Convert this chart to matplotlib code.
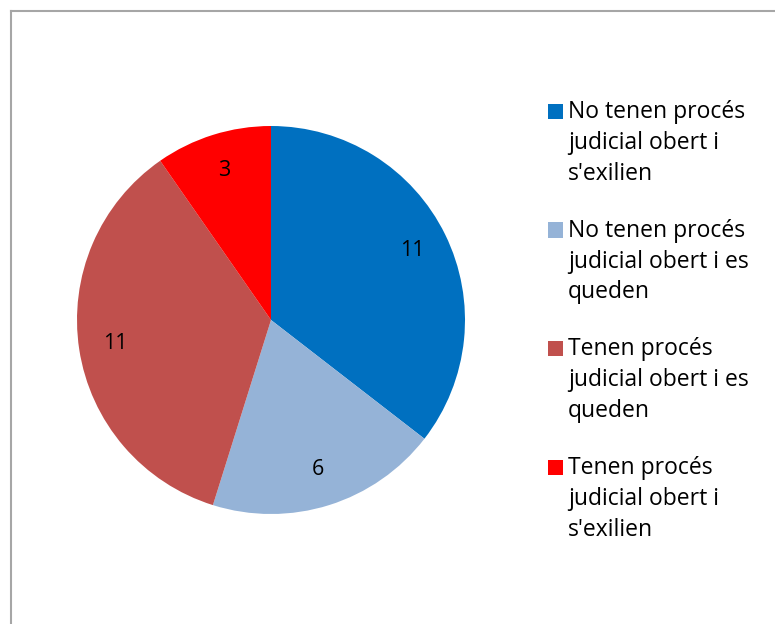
import matplotlib
matplotlib.use("Agg")
import matplotlib.pyplot as plt
import matplotlib.patches as patches
from matplotlib.lines import Line2D

# Donnees
categories = ["No tenen procés\njudicial obert i\ns'exilien",
              "No tenen procés\njudicial obert i es\nqueden",
              "Tenen procés\njudicial obert i es\nqueden",
              "Tenen procés\njudicial obert i\ns'exilien"]
valeurs = [11, 6, 11, 3]
couleurs = ['#0070C0', '#95B3D7', '#C0504D', '#FF0000']

plt.rcParams['font.family'] = ['Open Sans', 'DejaVu Sans']

W, H = 775, 624
fig = plt.figure(figsize=(W / 100, H / 100), dpi=100)

# Cadre (gauche + haut)
fig.add_artist(Line2D([10.5 / W, 10.5 / W], [0, 1 - 11 / H], color='#A6A6A6', lw=1.5))
fig.add_artist(Line2D([10.5 / W, 1], [1 - 11 / H, 1 - 11 / H], color='#A6A6A6', lw=1.5))

# Camembert
cx, cy, r = 271, 320, 194
ax = fig.add_axes([(cx - r) / W, (H - cy - r) / H, 2 * r / W, 2 * r / H])
ax.pie(valeurs, colors=couleurs, startangle=90, counterclock=False, radius=1,
       autopct=lambda p: f'{round(p * sum(valeurs) / 100):d}', pctdistance=0.81,
       textprops=dict(fontsize=15.5, color='black'))
ax.set_xlim(-1, 1)
ax.set_ylim(-1, 1)
ax.set_aspect('equal')
ax.axis('off')

# Legende
y0 = 120
for i, (lab, c) in enumerate(zip(categories, couleurs)):
    y = y0 + i * 118.5
    fig.add_artist(patches.Rectangle((548 / W, 1 - (y - 1) / H), 15 / W, 15 / H,
                                     transform=fig.transFigure, facecolor=c, edgecolor='none'))
    # va='baseline' -> ligne de base de la derniere ligne
    fig.text(568 / W, 1 - (y + 60) / H, lab, fontsize=16.5, va='baseline', ha='left',
             linespacing=1.38)

fig.savefig('out.png', dpi=100, facecolor='white')
